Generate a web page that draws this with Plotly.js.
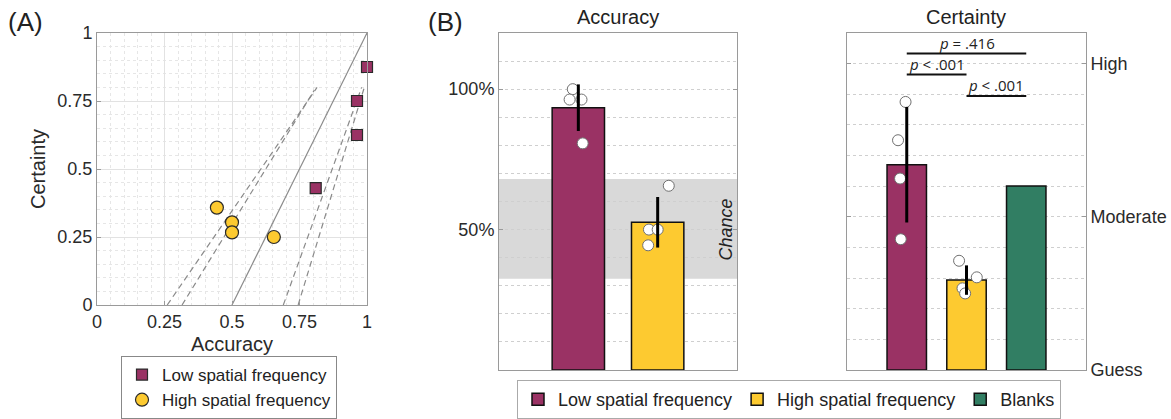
<!DOCTYPE html>
<html>
<head>
<meta charset="utf-8">
<script src="https://cdn.plot.ly/plotly-3.0.1.min.js"></script>
<style>html,body{margin:0;padding:0;background:#fff;}#chart{width:1171px;height:419px;}</style>
</head>
<body>
<div id="chart"></div>
<script>
// ---------- Panel A data ----------
const lowAcc = [1.0, 0.963, 0.963, 0.81];
const lowCert = [0.875, 0.75, 0.625, 0.43];
const highAcc = [0.444, 0.5, 0.5, 0.655];
const highCert = [0.358, 0.304, 0.267, 0.25];
const refLineX = [0.5, 1];
const refLineY = [0, 1];
const ciLeftOuterX = [0.26, 0.815], ciLeftOuterY = [0, 0.8];
const ciLeftInnerX = [0.315, 0.805], ciLeftInnerY = [0, 0.79];
const ciRightInnerX = [0.69, 0.98], ciRightInnerY = [0, 0.8];
const ciRightOuterX = [0.745, 0.99], ciRightOuterY = [0, 0.8];
const abTicks = [0, 0.25, 0.5, 0.75, 1];
const abTickText = ['0', '0.25', '0.5', '0.75', '1'];

// ---------- Panel B data ----------
const groupNames = ['Low spatial frequency', 'High spatial frequency', 'Blanks'];
const accX = [1, 2];
const accMeans = [93.4, 52.6];
const accErr = [8.3, 9.0];
const accLowPts = [100, 96.3, 96.3, 80.7];
const accLowJitter = [-0.07, -0.11, 0.04, 0.055];
const accHighPts = [65.6, 50, 50, 44.4];
const accHighJitter = [0.14, -0.11, 0.0, -0.12];
const chanceBand = [32.5, 68];
const accTickVals = [50, 100];
const accTickText = ['50%', '100%'];

const certX = [1, 2, 3];
const certMeans = [2.34, 1.587, 2.202];
const certErr = [0.377, 0.096];
const certLowPts = [2.75, 2.5, 2.25, 1.854];
const certLowJitter = [-0.02, -0.146, -0.112, -0.1];
const certHighPts = [1.713, 1.605, 1.533, 1.50];
const certHighJitter = [-0.124, 0.172, -0.067, -0.023];
const certTickVals = [1, 2, 3];
const certTickText = ['Guess', 'Moderate', 'High'];
const sigPairs = [[1, 3], [1, 2], [2, 3]];
const sigLevels = [3.066, 2.929, 2.789];
const sigLabels = ['<i>p</i> = .416', '<i>p</i> < .001', '<i>p</i> < .001'];

const cLow = '#9a3264', cHigh = '#fdca30', cBlank = '#317e63';
const FONT = 'Liberation Sans, Arial, sans-serif';

const W = 1171, H = 419;
const px = v => v / W, py = v => 1 - v / H;

const traces = [];
// Panel A reference lines
traces.push({x: refLineX, y: refLineY, xaxis: 'x', yaxis: 'y', mode: 'lines', line: {color: '#8a8a8a', width: 1.2}, showlegend: false, hoverinfo: 'skip'});
[[ciLeftOuterX, ciLeftOuterY], [ciLeftInnerX, ciLeftInnerY], [ciRightInnerX, ciRightInnerY], [ciRightOuterX, ciRightOuterY]].forEach(l => {
  traces.push({x: l[0], y: l[1], xaxis: 'x', yaxis: 'y', mode: 'lines', line: {color: '#8a8a8a', width: 1.2, dash: '6px,4px'}, showlegend: false, hoverinfo: 'skip'});
});
traces.push({x: lowAcc, y: lowCert, xaxis: 'x', yaxis: 'y', mode: 'markers', name: groupNames[0], legend: 'legend', cliponaxis: false,
  marker: {symbol: 'square', size: 11, color: cLow, line: {color: '#2a2a2a', width: 1.2}}});
traces.push({x: highAcc, y: highCert, xaxis: 'x', yaxis: 'y', mode: 'markers', name: groupNames[1], legend: 'legend', cliponaxis: false,
  marker: {symbol: 'circle', size: 13, color: cHigh, line: {color: '#2a2a2a', width: 1.2}}});

// Panel B accuracy bars
const barW = 0.66;
traces.push({type: 'bar', x: [accX[0]], y: [accMeans[0]], xaxis: 'x2', yaxis: 'y2', width: barW, name: groupNames[0], legend: 'legend2',
  marker: {color: cLow, line: {color: '#111', width: 1.5}}});
traces.push({type: 'bar', x: [accX[1]], y: [accMeans[1]], xaxis: 'x2', yaxis: 'y2', width: barW, name: groupNames[1], legend: 'legend2',
  marker: {color: cHigh, line: {color: '#111', width: 1.5}}});
// Panel B certainty bars (bars start at the "Guess" level 1)
certX.forEach((xv, i) => {
  traces.push({type: 'bar', x: [xv], y: [certMeans[i] - 1], base: 1, xaxis: 'x3', yaxis: 'y3', width: barW, name: groupNames[i],
    legend: 'legend2', showlegend: i === 2, marker: {color: [cLow, cHigh, cBlank][i], line: {color: '#111', width: 1.5}}});
});

const ptMarker = {symbol: 'circle', size: 11, color: '#ffffff', line: {color: '#707070', width: 1}};
traces.push({x: accLowJitter.map(j => accX[0] + j), y: accLowPts, xaxis: 'x2', yaxis: 'y2', mode: 'markers', marker: ptMarker, showlegend: false, cliponaxis: false});
traces.push({x: accHighJitter.map(j => accX[1] + j), y: accHighPts, xaxis: 'x2', yaxis: 'y2', mode: 'markers', marker: ptMarker, showlegend: false, cliponaxis: false});
traces.push({x: certLowJitter.map(j => certX[0] + j), y: certLowPts, xaxis: 'x3', yaxis: 'y3', mode: 'markers', marker: ptMarker, showlegend: false, cliponaxis: false});
traces.push({x: certHighJitter.map(j => certX[1] + j), y: certHighPts, xaxis: 'x3', yaxis: 'y3', mode: 'markers', marker: ptMarker, showlegend: false, cliponaxis: false});

// Error bars drawn on top
traces.push({x: accX, y: accMeans, xaxis: 'x2', yaxis: 'y2', mode: 'markers', marker: {size: 1, opacity: 0}, showlegend: false,
  error_y: {type: 'data', array: accErr, visible: true, color: '#000', thickness: 3, width: 0}});
traces.push({x: certX.slice(0, 2), y: certMeans.slice(0, 2), xaxis: 'x3', yaxis: 'y3', mode: 'markers', marker: {size: 1, opacity: 0}, showlegend: false,
  error_y: {type: 'data', array: certErr, visible: true, color: '#000', thickness: 3, width: 0}});

const gridDot = '#cfcfcf';
const boxLine = '#9a9a9a';
const tickFontColor = '#2a2a2a';

const layout = {
  width: W, height: H,
  margin: {l: 0, r: 0, t: 0, b: 0},
  paper_bgcolor: '#fff', plot_bgcolor: '#fff',
  font: {family: FONT, color: '#222', size: 16},
  barmode: 'overlay',
  xaxis: {domain: [px(97), px(367)], range: [0, 1], anchor: 'y', tickvals: abTicks, ticktext: abTickText,
    showgrid: true, gridcolor: '#e2e2e2', zeroline: false, showline: true, linecolor: boxLine, mirror: true,
    ticks: 'inside', ticklen: 4, tickcolor: boxLine, tickfont: {size: 18, color: tickFontColor},
    minor: {dtick: 0.05, showgrid: true, gridcolor: '#e6e6e6', griddash: 'dot', ticks: ''},
    title: {text: 'Accuracy', font: {size: 20, color: tickFontColor}, standoff: 6}},
  yaxis: {domain: [py(305), py(33)], range: [0, 1], anchor: 'x', tickvals: abTicks, ticktext: abTickText,
    showgrid: true, gridcolor: '#e2e2e2', zeroline: false, showline: true, linecolor: boxLine, mirror: true,
    ticks: 'inside', ticklen: 4, tickcolor: boxLine, tickfont: {size: 18, color: tickFontColor},
    minor: {dtick: 0.05, showgrid: true, gridcolor: '#e6e6e6', griddash: 'dot', ticks: ''},
    title: {text: 'Certainty', font: {size: 20, color: tickFontColor}, standoff: 6}},
  xaxis2: {domain: [px(499), px(737)], range: [0, 3], anchor: 'y2', showticklabels: false, ticks: '', showgrid: false,
    zeroline: false, showline: true, linecolor: boxLine, mirror: true},
  yaxis2: {domain: [py(370), py(33)], range: [0, 120], anchor: 'x2', tickvals: accTickVals, ticktext: accTickText,
    showgrid: true, gridcolor: gridDot, griddash: 'dot', zeroline: false, showline: true, linecolor: boxLine, mirror: 'ticks',
    ticks: 'inside', ticklen: 4, tickcolor: boxLine, tickfont: {size: 18, color: tickFontColor},
    minor: {dtick: 10, showgrid: true, gridcolor: gridDot, griddash: 'dot', ticks: ''}},
  xaxis3: {domain: [px(847), px(1086)], range: [0, 4], anchor: 'y3', showticklabels: false, ticks: '', showgrid: false,
    zeroline: false, showline: true, linecolor: boxLine, mirror: true},
  yaxis3: {domain: [py(370), py(33)], range: [1, 3.2], anchor: 'x3', side: 'right', tickvals: certTickVals, ticktext: certTickText,
    showgrid: true, gridcolor: gridDot, griddash: 'dot', zeroline: false, showline: true, linecolor: boxLine, mirror: 'ticks',
    ticks: 'inside', ticklen: 4, tickcolor: boxLine, tickfont: {size: 18, color: tickFontColor},
    minor: {tick0: 1, dtick: 0.2, showgrid: true, gridcolor: gridDot, griddash: 'dot', ticks: ''}},
  legend: {x: px(121), y: 0, xanchor: 'left', yanchor: 'bottom', bgcolor: '#fff', bordercolor: '#888', borderwidth: 1,
    font: {size: 17, color: '#222'}, tracegroupgap: 0, itemwidth: 30},
  legend2: {x: px(517), y: 0, xanchor: 'left', yanchor: 'bottom', orientation: 'h', bgcolor: '#fff', bordercolor: '#aaa', borderwidth: 1,
    font: {size: 18, color: '#222'}, itemwidth: 30, tracegroupgap: 0},
  shapes: [
    {type: 'rect', xref: 'x2 domain', yref: 'y2', x0: 0, x1: 1, y0: chanceBand[0], y1: chanceBand[1], fillcolor: '#d9d9d9', line: {width: 0}, layer: 'below'}
  ].concat(sigPairs.map((p, i) => ({type: 'line', xref: 'x3', yref: 'y3', x0: p[0], x1: p[1], y0: sigLevels[i], y1: sigLevels[i], line: {color: '#111', width: 2}}))),
  annotations: [
    {text: '(A)', xref: 'paper', yref: 'paper', x: px(6), y: py(22), xanchor: 'left', yanchor: 'middle', showarrow: false, font: {size: 26, color: '#222'}},
    {text: '(B)', xref: 'paper', yref: 'paper', x: px(426), y: py(22), xanchor: 'left', yanchor: 'middle', showarrow: false, font: {size: 26, color: '#222'}},
    {text: 'Accuracy', xref: 'paper', yref: 'paper', x: px(618), y: py(17), xanchor: 'center', yanchor: 'middle', showarrow: false, font: {size: 20, color: '#222'}},
    {text: 'Certainty', xref: 'paper', yref: 'paper', x: px(966), y: py(17), xanchor: 'center', yanchor: 'middle', showarrow: false, font: {size: 20, color: '#222'}},
    {text: '<i>Chance</i>', xref: 'x2', yref: 'y2', x: 2.86, y: 50, textangle: -90, showarrow: false, font: {size: 18, color: '#222'}}
  ].concat(sigPairs.map((p, i) => ({text: sigLabels[i], xref: 'x3', yref: 'y3', x: (p[0] + p[1]) / 2, y: sigLevels[i], yanchor: 'bottom', yshift: -1,
    showarrow: false, font: {size: 15, color: '#222', family: 'Open Sans, sans-serif'}})))
};

Plotly.newPlot('chart', traces, layout, {staticPlot: true, displayModeBar: false});
</script>
</body>
</html>
